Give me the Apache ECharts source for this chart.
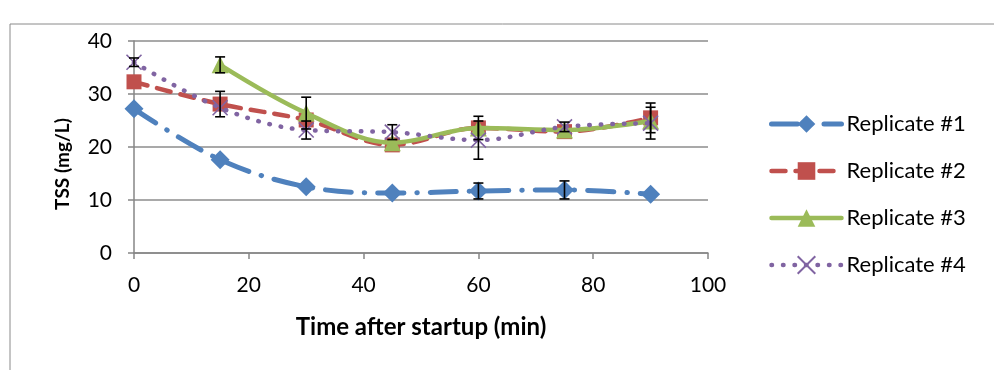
<!DOCTYPE html>
<html>
<head>
<meta charset="utf-8">
<script src="https://cdn.jsdelivr.net/npm/echarts@6/dist/echarts.min.js"></script>
<style>
  html, body { margin: 0; padding: 0; background: #fff; }
  #chart { width: 994px; height: 370px; }
</style>
</head>
<body>
<div id="chart"></div>
<script>
// Sampling times (min after startup)
const times = [0, 15, 30, 45, 60, 75, 90];

// TSS readings (mg/L) per replicate; null = not sampled
const rep1 = [27.2, 17.6, 12.5, 11.3, 11.7, 11.9, 11.1];
const rep2 = [32.3, 28.1, 25.1, 20.4, 23.6, 22.9, 25.5];
const rep3 = [null, 35.5, 26.4, 20.8, 23.6, 23.2, 24.9];
const rep4 = [36.0, 27.4, 23.2, 22.8, 21.3, 23.8, 24.5];

// Error bars: [time, low, high]
const errRep1 = [[60, 10.2, 13.2], [75, 10.2, 13.6]];
const errRep2 = [[15, 25.7, 30.5], [60, 21.4, 25.8], [90, 22.7, 28.3]];
const errRep3 = [[15, 34.0, 37.0], [30, 23.4, 29.4]];
const errRep4 = [[0, 35.2, 36.8], [30, 21.5, 24.9], [45, 21.4, 24.2], [60, 17.7, 24.9], [75, 22.9, 24.7], [90, 21.5, 27.5]];

const yTicks = [0, 10, 20, 30, 40];
const xTicks = [0, 20, 40, 60, 80, 100];

const seriesNames = ['Replicate #1', 'Replicate #2', 'Replicate #3', 'Replicate #4'];
const colors = ['#4F81BD', '#C0504D', '#9BBB59', '#8064A2'];

function pairs(vals) {
  return times.map((t, i) => [t, vals[i]]).filter(p => p[1] !== null);
}

const chart = echarts.init(document.getElementById('chart'), null, { renderer: 'canvas' });

const font = 'Lato, "Liberation Sans", sans-serif';

function errorSeries(data) {
  return {
    type: 'custom',
    data: data,
    z: 10,
    silent: true,
    renderItem: function (params, api) {
      const x = api.value(0);
      const lo = api.coord([x, api.value(1)]);
      const hi = api.coord([x, api.value(2)]);
      const h = 5;
      const style = { stroke: '#000', lineWidth: 1.6 };
      return {
        type: 'group',
        children: [
          { type: 'line', shape: { x1: lo[0], y1: lo[1], x2: hi[0], y2: hi[1] }, style: style },
          { type: 'line', shape: { x1: lo[0] - h, y1: lo[1], x2: lo[0] + h, y2: lo[1] }, style: style },
          { type: 'line', shape: { x1: hi[0] - h, y1: hi[1], x2: hi[0] + h, y2: hi[1] }, style: style }
        ]
      };
    },
    encode: { x: 0, y: [1, 2] }
  };
}

const option = {
  animation: false,
  backgroundColor: '#fff',
  graphic: [
    {
      type: 'rect',
      shape: { x: 10, y: 24, width: 1000, height: 400 },
      style: { fill: 'none', stroke: '#8a8a8a', lineWidth: 1 },
      silent: true
    },
    {
      // vertical axis title
      type: 'text',
      x: 63,
      y: 164,
      rotation: Math.PI / 2,
      style: {
        text: 'TSS (mg/L)',
        font: 'bold 19px ' + font,
        fill: '#000',
        align: 'center',
        verticalAlign: 'middle'
      },
      silent: true
    }
  ],
  grid: { left: 134, right: 286, top: 41, bottom: 117 },
  legend: {
    orient: 'vertical',
    left: 764,
    top: 108,
    itemWidth: 70,
    itemHeight: 22,
    itemGap: 25,
    data: seriesNames,
    lineStyle: { width: 'inherit' },
    textStyle: { fontFamily: font, fontSize: 22, color: '#000', padding: [0, 0, 0, 0] }
  },
  xAxis: {
    type: 'value',
    min: 0,
    max: 100,
    interval: 20,
    name: 'Time after startup (min)',
    nameLocation: 'middle',
    nameGap: 62,
    nameTextStyle: { fontFamily: font, fontSize: 24, fontWeight: 'bold', color: '#000' },
    axisLine: { show: true, lineStyle: { color: '#868686', width: 1.5 } },
    axisTick: { show: true, length: 6, lineStyle: { color: '#868686', width: 1.5 } },
    axisLabel: { fontFamily: font, fontSize: 21, color: '#000', margin: 22,
      formatter: v => xTicks.includes(v) ? String(v) : '' },
    splitLine: { show: false }
  },
  yAxis: {
    type: 'value',
    min: 0,
    max: 40,
    interval: 10,
    axisLine: { show: true, lineStyle: { color: '#868686', width: 1.5 } },
    axisTick: { show: true, length: 6, lineStyle: { color: '#868686', width: 1.5 } },
    axisLabel: { fontFamily: font, fontSize: 21, color: '#000', margin: 22,
      formatter: v => yTicks.includes(v) ? String(v) : '' },
    splitLine: { show: true, lineStyle: { color: '#8c8c8c', width: 1.5 } }
  },
  series: [
    {
      name: seriesNames[0],
      type: 'line',
      data: pairs(rep1),
      smooth: 0.35,
      symbol: 'diamond',
      symbolSize: 19,
      itemStyle: { color: colors[0] },
      lineStyle: { color: colors[0], width: 5, type: [26, 13, 0.5, 13], cap: 'round' },
      z: 2
    },
    {
      name: seriesNames[1],
      type: 'line',
      data: pairs(rep2),
      smooth: 0.35,
      symbol: 'rect',
      symbolSize: 15,
      itemStyle: { color: colors[1] },
      lineStyle: { color: colors[1], width: 4.5, type: [14, 10], cap: 'round' },
      z: 3
    },
    {
      name: seriesNames[2],
      type: 'line',
      data: pairs(rep3),
      smooth: 0.35,
      symbol: 'triangle',
      symbolSize: 17,
      itemStyle: { color: colors[2] },
      lineStyle: { color: colors[2], width: 4.5, cap: 'round' },
      z: 4
    },
    {
      name: seriesNames[3],
      type: 'line',
      data: pairs(rep4),
      smooth: 0.35,
      symbol: 'path://M0,0L10,10M10,0L0,10',
      symbolSize: 15,
      itemStyle: { color: 'rgba(0,0,0,0)', borderColor: colors[3], borderWidth: 1.6 },
      lineStyle: { color: colors[3], width: 4.5, type: [0.5, 11], cap: 'round' },
      z: 5
    },
    errorSeries(errRep1),
    errorSeries(errRep2),
    errorSeries(errRep3),
    errorSeries(errRep4)
  ]
};

chart.setOption(option);
</script>
</body>
</html>
